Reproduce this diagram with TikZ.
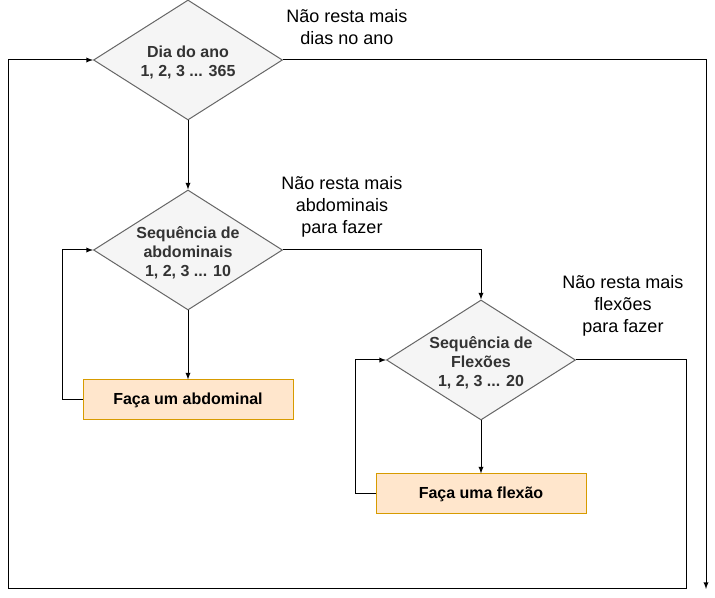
\documentclass[tikz,border=0pt]{standalone}
\usepackage{fontspec}
\setmainfont{Liberation Sans}
\usepackage{tikz}
\usetikzlibrary{calc,arrows,shapes.geometric}
\definecolor{decfill}{HTML}{F5F5F5}
\definecolor{decline}{HTML}{666666}
\definecolor{dectext}{HTML}{333333}
\definecolor{actfill}{HTML}{FFE6CC}
\definecolor{actline}{HTML}{D79B00}
\tikzset{
  decision/.style={diamond,draw=decline,fill=decfill,line width=0.75pt,inner sep=0pt,
    minimum width=141.75pt,minimum height=90pt},
  dectxt/.style={align=center,text=dectext,yshift=-2pt,font=\fontsize{12}{14.5}\selectfont\bfseries},
  action/.style={rectangle,draw=actline,fill=actfill,line width=0.75pt,
    minimum width=157.5pt,minimum height=30pt,font=\fontsize{12}{14.5}\selectfont\bfseries},
  note/.style={align=center,font=\fontsize{13.5}{16.5}\selectfont},
  flow/.style={-latex,line width=0.75pt}
}
\begin{document}
\begin{tikzpicture}[x=0.75pt,y=-0.75pt]
                      \useasboundingbox (0,0) rectangle (715,598);
                      % blocos
                      \node[decision,label={[dectxt]center:{Dia do ano\\1, 2, 3 ... 365}}](dia)at(188,60){};
                      \node[decision,label={[dectxt]center:{Sequência de\\abdominais\\1, 2, 3 ... 10}}](abd)at(188,250){};
                      \node[decision,label={[dectxt]center:{Sequência de\\Flexões\\1, 2, 3 ... 20}}](flx)at(481,360){};
                      \node[action](fabd)at(188,400){Faça um abdominal};
                      \node[action](fflx)at(481,494){Faça uma flexão};
                      % textos
                      \node[note](tdia)at(347,27){Não resta mais\\dias no ano};
                      \node[note](tabd)at(342,207){Não resta mais\\abdominais\\para fazer};
                      \node[note](tflx)at(623,306){Não resta mais\\flexões\\para fazer};
                      % pontos de retorno
                      \coordinate (voltaR) at (686,589);
                      \coordinate (voltaL) at (8,589);
                      \coordinate (fim) at (706,589);
                      % ligacoes
                      \draw[flow] (dia.south) -- (abd.north);
                      \draw[flow] (abd.south) -- (fabd.north);
                      \draw[flow] (fabd.west) -- ++(-20,0) |- (abd.west);
                      \draw[flow] (abd.east) -| (flx.north);
                      \draw[flow] (flx.south) -- (fflx.north);
                      \draw[flow] (fflx.west) -- ++(-20,0) |- (flx.west);
                      \draw[flow] (flx.east) -| (voltaR) -- (voltaL) |- (dia.west);
                      \draw[flow] (dia.east) -| (fim);
                  \end{tikzpicture}
\end{document}
